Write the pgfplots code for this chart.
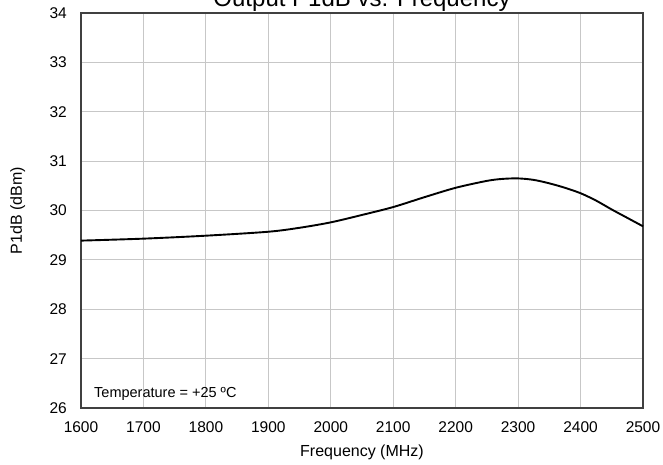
\documentclass[border=0pt]{standalone}
\usepackage{fontspec}
\setmainfont{Liberation Sans}
\usepackage{pgfplots}
\pgfplotsset{compat=1.18}

\begin{document}
\begin{tikzpicture}
% frame of the picture: the title is cut at the top, as in the reference
\path[use as bounding box, clip] (-81pt,-56pt) rectangle (582pt,408pt);
\begin{axis}[
  at={(0pt,0pt)}, anchor=south west,
  scale only axis,
  width=562pt, height=395pt,
  xmin=1600, xmax=2500,
  ymin=26, ymax=34,
  xtick={1600,1700,...,2500},
  ytick={26,27,...,34},
  /pgf/number format/1000 sep={},
  /pgf/number format/assume math mode=true,
  ticklabel style={font=\fontsize{15.5}{17}\selectfont, inner sep=0pt},
  xticklabel style={anchor=base, yshift=-24pt},
  yticklabel style={anchor=east, xshift=-14pt},
  major tick length=0pt,
  grid=major,
  grid style={draw=black!22, line width=0.8pt},
  axis line style={draw=black!75, line width=1.3pt},
  xlabel={Frequency (MHz)},
  ylabel={P1dB (dBm)},
  label style={font=\fontsize{16}{18}\selectfont, inner sep=0pt},
  xlabel style={at={(axis description cs:0.5,0)}, anchor=base, yshift=-48pt},
  ylabel style={at={(axis description cs:0,0.5)}, anchor=base, yshift=59pt},
  clip=false,
]
\addplot[black, line width=1.9pt, smooth, tension=0.5] coordinates {
  (1600,29.39) (1700,29.43) (1800,29.49) (1900,29.57) (1950,29.65)
  (2000,29.76) (2050,29.91) (2100,30.07) (2150,30.27) (2200,30.46)
  (2250,30.60) (2275,30.64) (2300,30.65) (2325,30.62) (2350,30.55)
  (2375,30.46) (2400,30.35) (2425,30.20) (2450,30.02) (2475,29.85)
  (2500,29.68)
};
\node[anchor=base west, font=\fontsize{14.5}{16}\selectfont, inner sep=0pt]
  at (rel axis cs:0,0) [xshift=13pt, yshift=11pt] {Temperature = +25 ºC};
\node[anchor=base, font=\fontsize{24}{26}\selectfont, inner sep=0pt]
  at (rel axis cs:0.5,1) [yshift=7pt] {Output P1dB vs. Frequency};
\end{axis}
\end{tikzpicture}
\end{document}
